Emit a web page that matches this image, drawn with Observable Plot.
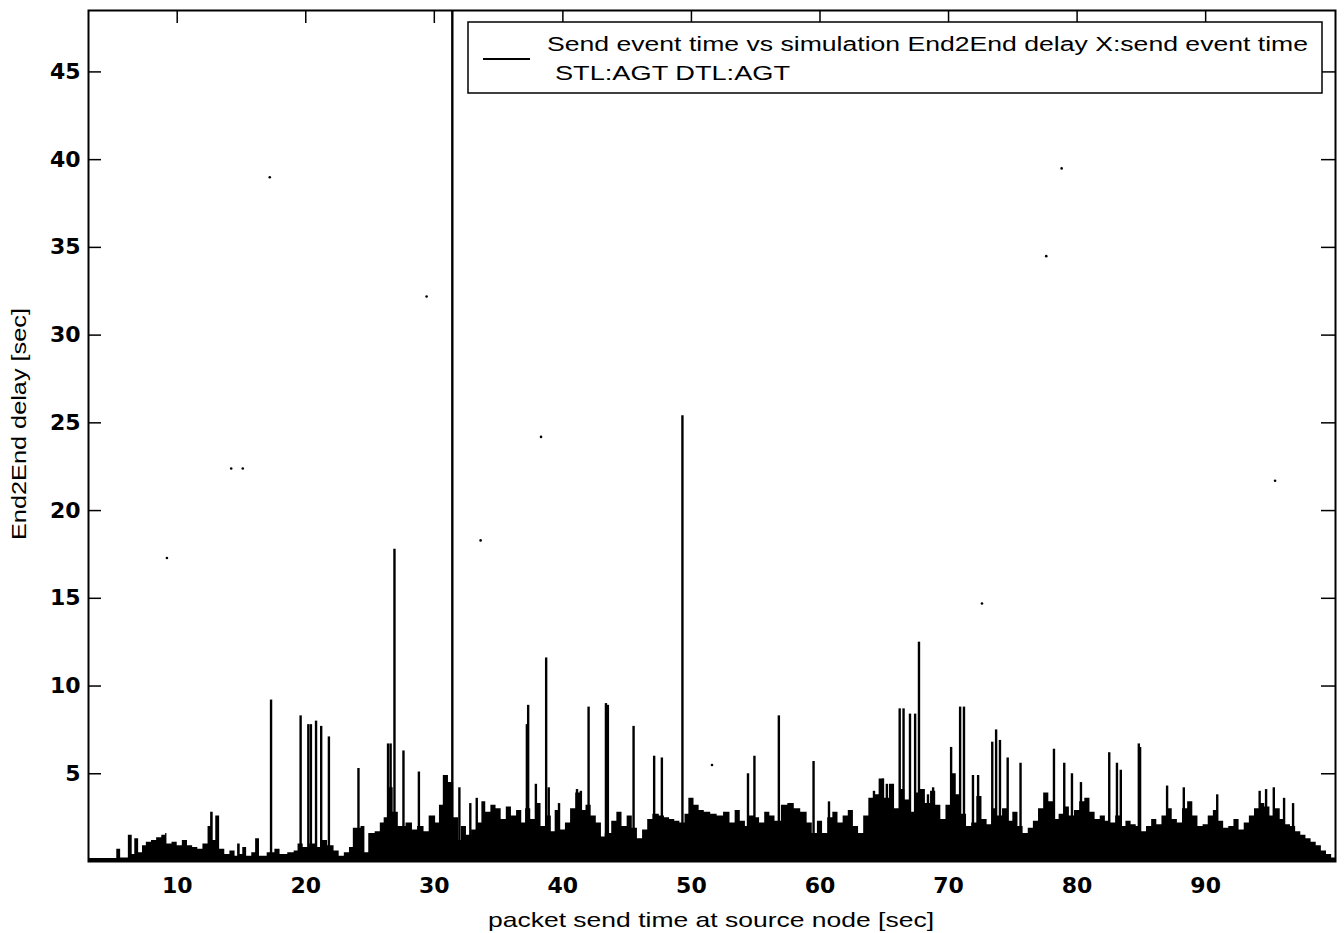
<!DOCTYPE html>
<html><head><meta charset="utf-8">
<script src="https://cdn.jsdelivr.net/npm/d3@7"></script>
<script src="https://cdn.jsdelivr.net/npm/@observablehq/plot@0.6"></script>
<style>html,body{margin:0;padding:0;background:#fff;} #chart{width:1344px;height:933px;}</style>
</head><body><div id="chart"></div>
<script>
// ---- data ----
const envX = [3.1,5.3,5.6,6.2,6.5,6.7,7.0,7.3,7.6,8.0,8.4,8.8,9.1,9.2,9.6,10.0,10.4,10.8,11.2,11.6,12.0,12.4,12.6,12.8,13.0,13.3,13.7,14.1,14.5,14.7,14.9,15.1,15.4,15.8,16.1,16.4,17.0,17.6,18.0,18.6,19.1,19.4,19.8,20.3,20.8,21.3,21.7,22.2,22.6,23.0,23.4,23.7,24.3,24.6,24.9,25.4,25.8,26.1,26.4,26.8,27.2,27.8,28.3,28.7,29.2,29.6,30.1,30.4,30.7,31.1,31.5,31.9,32.1,32.5,32.9,33.3,33.7,34.0,34.4,34.8,35.2,35.6,36.0,36.4,36.8,37.1,37.5,37.9,38.3,38.7,39.1,39.4,39.8,40.2,40.6,41.0,41.4,41.8,42.2,42.6,43.0,43.3,43.8,44.2,44.6,45.0,45.4,45.8,46.2,46.6,47.0,47.5,47.9,48.3,48.7,49.1,49.5,49.8,50.2,50.6,51.0,51.5,52.0,52.5,53.0,53.4,53.8,54.2,54.5,54.9,55.3,55.7,56.1,56.5,57.0,57.5,58.0,58.5,59.0,59.4,59.8,60.2,60.6,61.0,61.4,61.8,62.2,62.6,63.0,63.4,63.8,64.2,64.6,65.0,65.4,65.8,66.2,66.6,67.0,67.4,67.8,68.2,68.6,69.0,69.4,69.8,70.2,70.6,71.0,71.4,71.8,72.2,72.6,73.0,73.4,73.8,74.2,74.6,75.0,75.4,75.8,76.2,76.6,77.0,77.4,77.8,78.2,78.6,79.0,79.4,79.8,80.2,80.6,81.0,81.4,81.8,82.2,82.6,83.0,83.4,83.8,84.2,84.6,85.0,85.4,85.8,86.2,86.6,87.0,87.4,87.8,88.2,88.6,89.0,89.4,89.8,90.2,90.6,91.0,91.4,91.8,92.2,92.6,93.0,93.4,93.8,94.2,94.6,95.0,95.4,95.8,96.2,96.6,97.0,97.4,97.8,98.2,98.6,99.0,99.4,99.8,100.1];
const envY = [0.17,0.7,0.2,1.5,0.4,1.3,0.5,0.9,1.1,1.2,1.35,1.5,1.6,1.0,1.1,0.9,1.2,0.9,0.8,0.7,1.0,2.0,2.8,1.2,2.6,0.7,0.4,0.6,0.3,1.0,0.4,0.8,0.3,0.5,1.3,0.3,0.5,0.7,0.4,0.5,0.6,1.0,0.8,1.0,0.8,1.2,0.9,0.6,0.3,0.5,0.8,1.9,2.0,0.5,1.6,1.7,2.2,2.5,4.2,2.8,2.0,2.2,1.8,2.0,1.7,2.6,2.2,3.2,4.9,4.5,2.5,1.2,2.0,1.5,1.8,2.2,3.4,2.8,3.2,3.0,2.4,3.1,2.6,2.9,2.2,3.0,2.4,3.3,2.0,2.6,1.7,2.9,1.8,2.2,3.0,3.9,2.9,3.2,2.6,2.2,1.4,1.6,2.3,2.8,2.0,2.6,1.9,1.3,1.8,2.4,2.7,2.6,2.5,2.4,2.3,2.2,2.7,3.6,3.2,2.9,2.8,2.7,2.6,2.8,2.2,2.9,2.3,2.0,2.6,2.5,2.2,2.8,2.6,2.3,3.2,3.3,3.0,2.8,2.2,1.6,2.3,1.6,2.5,2.8,2.2,2.6,2.9,2.0,1.6,2.6,3.6,3.8,4.7,3.6,4.4,3.0,4.1,3.5,2.8,3.9,4.1,3.3,4.0,3.2,2.4,3.2,5.0,3.8,2.7,2.0,2.2,3.7,2.4,2.1,3.0,2.6,3.0,2.3,2.8,2.0,1.6,1.9,2.3,3.0,3.9,3.4,2.4,2.7,3.1,2.6,2.9,3.4,3.6,2.8,2.4,2.6,2.3,2.2,2.6,2.0,2.3,2.1,2.0,1.7,2.0,2.4,2.1,2.6,3.0,2.4,2.2,3.0,3.4,2.6,2.0,2.1,2.6,2.9,2.3,1.9,2.0,2.4,1.8,2.2,2.6,3.0,3.3,3.1,2.6,3.0,2.4,2.1,2.0,1.7,1.5,1.3,1.1,0.9,0.6,0.4,0.2,0.2];
const spikeX = [17.3,19.6,20.2,20.4,20.8,21.2,21.8,24.1,26.4,26.6,26.9,27.6,28.8,31.4,31.95,32.8,33.3,37.2,37.3,37.9,38.7,38.9,39.7,41.1,41.4,42.0,43.35,43.5,45.5,47.1,47.7,49.3,54.4,54.9,56.8,59.5,60.7,64.2,64.9,65.2,66.2,66.5,67.0,67.4,67.7,68.0,68.4,68.8,70.2,70.9,71.2,71.9,72.3,73.4,73.7,74.0,74.6,75.6,78.2,79.0,79.6,80.3,82.5,83.1,83.4,84.8,84.9,87.0,88.3,90.9,94.2,94.7,95.3,96.1,96.8];
const spikeY = [9.2,8.3,7.8,7.8,8.0,7.7,7.1,5.3,6.7,6.7,17.8,6.3,5.1,48.5,4.2,3.3,3.6,7.8,8.9,4.4,11.6,4.2,3.3,4.1,4.0,8.8,9.0,8.9,7.7,6.0,5.9,25.4,5.0,6.0,8.3,5.7,3.4,4.0,4.7,4.4,8.7,8.7,8.4,8.4,12.5,3.8,3.8,4.2,6.5,8.8,8.8,4.9,4.9,6.8,7.5,6.9,5.9,5.6,6.4,5.6,5.0,4.5,6.2,5.6,5.2,6.7,6.5,4.3,4.2,3.8,4.0,4.1,4.2,3.6,3.3];
const dotX = [9.2,14.2,15.1,17.2,29.4,33.6,38.3,51.6,72.6,77.6,78.8,95.4];
const dotY = [17.3,22.4,22.4,39.0,32.2,18.3,24.2,5.5,14.7,34.5,39.5,21.7];
const xTicks = [10,20,30,40,50,60,70,80,90];
const yTicks = [5,10,15,20,25,30,35,40,45];
const xLabel = "packet send time at source node [sec]";
const yLabel = "End2End delay [sec]";
const legendLines = ["Send event time vs simulation End2End delay X:send event time", "STL:AGT DTL:AGT"];

// ---- build ----
const env = envX.map((x, i) => ({x, y: envY[i]}));
const spikes = spikeX.map((x, i) => ({x, y: spikeY[i]}));
const dots = dotX.map((x, i) => ({x, y: dotY[i]}));

const W = 1344, H = 933, mL = 88, mR = 9, mT = 10, mB = 72;
const iW = W - mL - mR, iH = H - mT - mB;

const chart = Plot.plot({
  width: W, height: H,
  marginLeft: mL, marginRight: mR, marginTop: mT, marginBottom: mB,
  x: {domain: [3.1, 100.1]},
  y: {domain: [0, 48.5]},
  style: {background: "#fff", color: "#000", fontFamily: "DejaVu Sans", overflow: "visible"},
  marks: [
    Plot.tickX(xTicks, {x: d => d, insetTop: iH - 12, stroke: "#000", strokeWidth: 1.5}),
    Plot.areaY(env, {x: "x", y: "y", curve: "step-after", fill: "#000"}),
    Plot.ruleX(spikes, {x: "x", y1: 0, y2: "y", stroke: "#000", strokeWidth: 2.4}),
    Plot.dot(dots, {x: "x", y: "y", r: 1.3, fill: "#000"}),
    Plot.tickX(xTicks, {x: d => d, insetBottom: iH - 13, stroke: "#000", strokeWidth: 1.5}),
    Plot.tickY(yTicks, {y: d => d, insetRight: iW - 13, stroke: "#000", strokeWidth: 1.5}),
    Plot.tickY(yTicks, {y: d => d, insetLeft: iW - 14, stroke: "#000", strokeWidth: 1.5}),
    Plot.frame({stroke: "#000", strokeWidth: 2}),
    Plot.axisX({ticks: xTicks, tickSize: 0, tickPadding: 16, fontSize: 22, fontWeight: "bold", label: null}),
    Plot.axisY({ticks: yTicks, tickSize: 0, tickPadding: 8, fontSize: 22, fontWeight: "bold", label: null})
  ]
});
document.getElementById("chart").appendChild(chart);

// axis titles and legend
const svg = d3.select(chart);
const font = "Liberation Sans, Arial, sans-serif";
svg.append("text")
  .attr("x", 711).attr("y", 927)
  .attr("text-anchor", "middle")
  .attr("font-family", font).attr("font-size", 21)
  .attr("textLength", 446).attr("lengthAdjust", "spacingAndGlyphs")
  .attr("fill", "#000")
  .text(xLabel);
svg.append("text")
  .attr("transform", "translate(26,424) rotate(-90)")
  .attr("text-anchor", "middle")
  .attr("font-family", font).attr("font-size", 20)
  .attr("textLength", 232).attr("lengthAdjust", "spacingAndGlyphs")
  .attr("fill", "#000")
  .text(yLabel);

const lg = svg.append("g").attr("text-anchor", "start");
lg.append("rect").attr("x", 468).attr("y", 22).attr("width", 854).attr("height", 71)
  .attr("fill", "#fff").attr("stroke", "#000").attr("stroke-width", 1.5);
lg.append("line").attr("x1", 483).attr("x2", 530).attr("y1", 59).attr("y2", 59)
  .attr("stroke", "#000").attr("stroke-width", 2);
lg.append("text").attr("x", 547).attr("y", 51)
  .attr("text-anchor", "start")
  .attr("font-family", font).attr("font-size", 20)
  .attr("textLength", 761).attr("lengthAdjust", "spacingAndGlyphs")
  .attr("fill", "#000").text(legendLines[0]);
lg.append("text").attr("x", 555).attr("y", 80)
  .attr("text-anchor", "start")
  .attr("font-family", font).attr("font-size", 20)
  .attr("textLength", 235).attr("lengthAdjust", "spacingAndGlyphs")
  .attr("fill", "#000").text(legendLines[1]);
</script>
</body></html>
